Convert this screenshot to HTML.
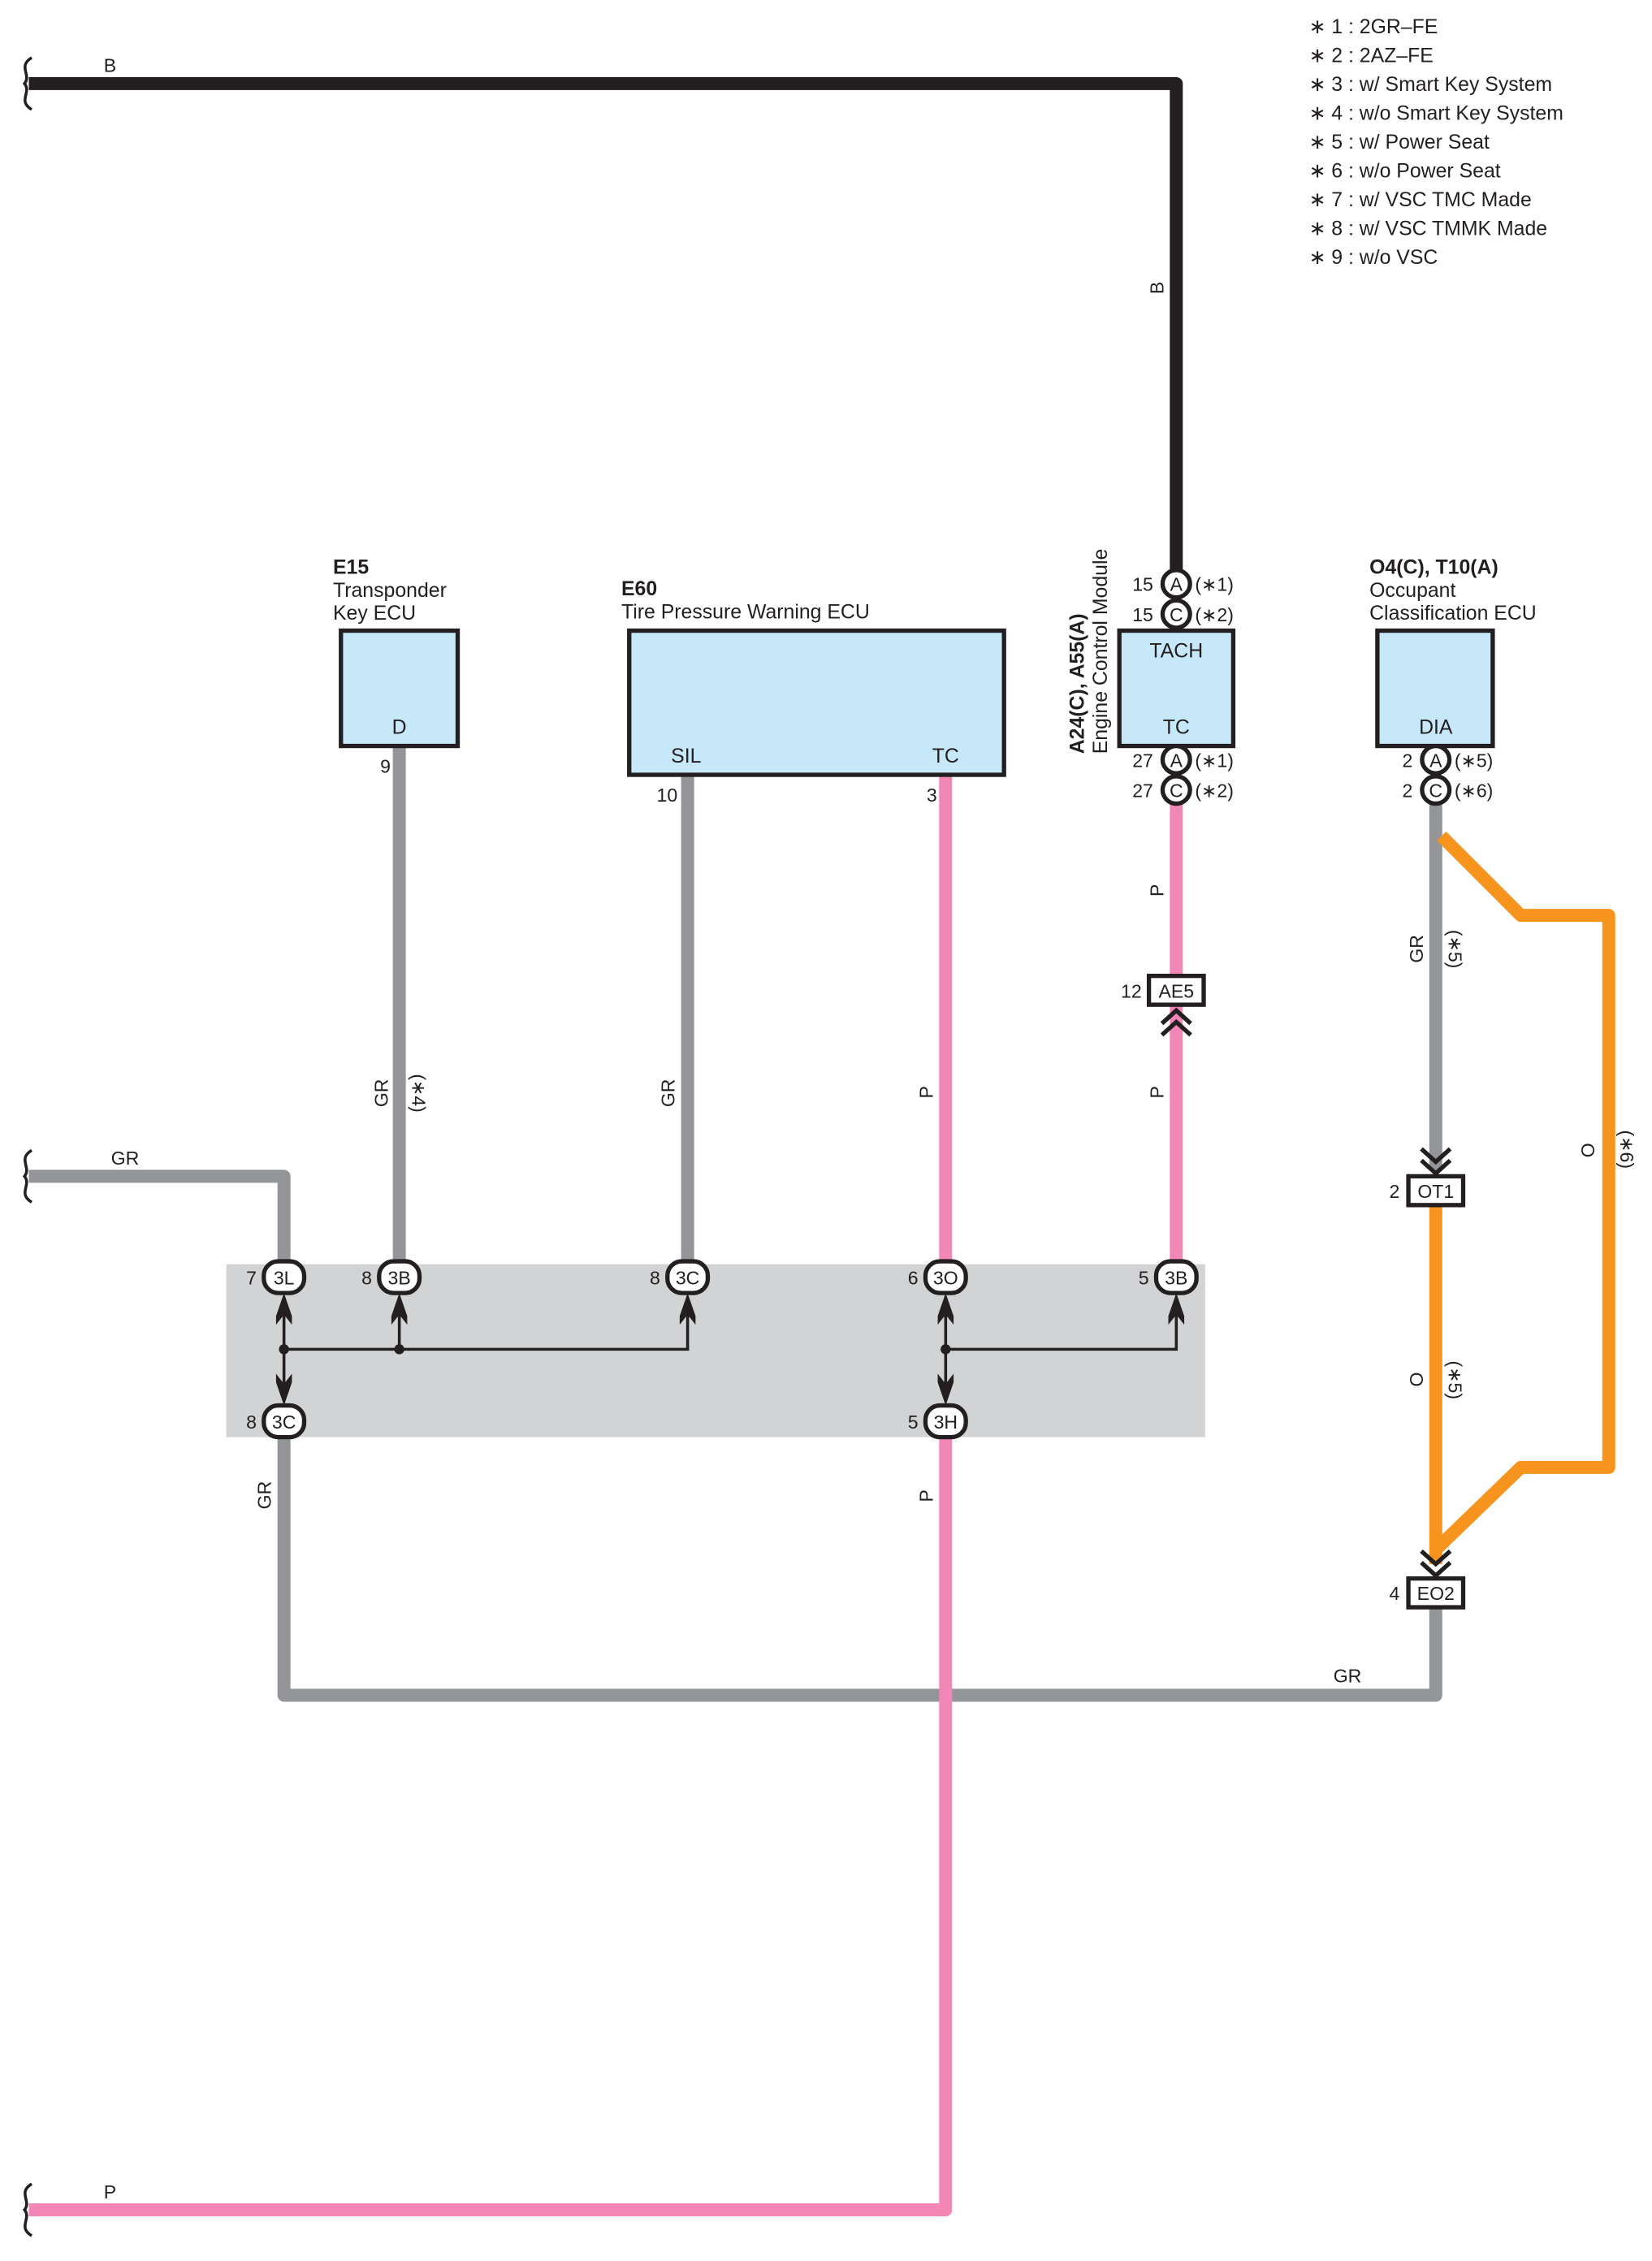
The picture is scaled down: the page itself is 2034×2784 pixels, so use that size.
<!DOCTYPE html>
<html><head><meta charset="utf-8"><style>
html,body{margin:0;padding:0;background:#fff}
svg{display:block}
text{font-family:"Liberation Sans",sans-serif;fill:#231f20}
</style></head><body>
<svg width="2034" height="2784" viewBox="0 0 1146 1568.5" preserveAspectRatio="none" xmlns="http://www.w3.org/2000/svg">
<defs>
<g id="up"><path d="M-5.5,16 L0,0 L5.5,16 L5.5,22 L0,15 L-5.5,22 Z" fill="#231f20"/></g>
<g id="dn"><path d="M-5.5,-16 L0,0 L5.5,-16 L5.5,-22 L0,-15 L-5.5,-22 Z" fill="#231f20"/></g>
</defs>
<rect x="157" y="877" width="679" height="120" fill="#d1d3d4"/>

<g fill="none" stroke-linejoin="round" stroke-linecap="butt">
<polyline points="20,58 816,58 816,398" stroke="#231f20" stroke-width="9"/>
<polyline points="20,816 197,816 197,877" stroke="#939598" stroke-width="9"/>
<line x1="277" y1="518" x2="277" y2="877" stroke="#939598" stroke-width="9"/>
<line x1="477" y1="538" x2="477" y2="877" stroke="#939598" stroke-width="9"/>
<line x1="656" y1="538" x2="656" y2="877" stroke="#f287b7" stroke-width="9"/>
<line x1="816" y1="558" x2="816" y2="877" stroke="#f287b7" stroke-width="9"/>
<polyline points="197,997 197,1176 996,1176 996,1115" stroke="#939598" stroke-width="9"/>
<polyline points="656,997 656,1533 20,1533" stroke="#f287b7" stroke-width="9"/>
<line x1="996" y1="558" x2="996" y2="812" stroke="#939598" stroke-width="9"/>
<line x1="996" y1="836" x2="996" y2="1085" stroke="#f7941d" stroke-width="9"/>
<polyline points="1000,580 1055,635 1116,635 1116,1018 1055,1018 996,1075" stroke="#f7941d" stroke-width="9"/>
</g>

<g fill="none" stroke="#231f20" stroke-width="2">
<path d="M22,40 C12,46 22,52 17,58 C22,64 12,70 22,76"/>
<path d="M22,798 C12,804 22,810 17,816 C22,822 12,828 22,834"/>
<path d="M22,1515 C12,1521 22,1527 17,1533 C22,1539 12,1545 22,1551"/>
</g>

<g fill="#c7e8f8" stroke="#231f20" stroke-width="3">
<rect x="236.5" y="437.5" width="81" height="80"/>
<rect x="436.5" y="437.5" width="260" height="100"/>
<rect x="776.5" y="437.5" width="79" height="80"/>
<rect x="955.5" y="437.5" width="80" height="80"/>
</g>

<g fill="#fff" stroke="#231f20" stroke-width="3">
<circle cx="816" cy="405" r="9.5"/><circle cx="816" cy="426" r="9.5"/>
<circle cx="816" cy="527" r="9.5"/><circle cx="816" cy="548" r="9.5"/>
<circle cx="996" cy="527" r="9.5"/><circle cx="996" cy="548" r="9.5"/>
</g>
<g font-size="13" text-anchor="middle">
<text x="816" y="410">A</text><text x="816" y="431">C</text>
<text x="816" y="532">A</text><text x="816" y="553">C</text>
<text x="996" y="532">A</text><text x="996" y="553">C</text>
</g>

<g fill="#fff" stroke="#231f20" stroke-width="3">
<rect x="183" y="875" width="28" height="22" rx="10"/>
<rect x="263" y="875" width="28" height="22" rx="10"/>
<rect x="463" y="875" width="28" height="22" rx="10"/>
<rect x="642" y="875" width="28" height="22" rx="10"/>
<rect x="802" y="875" width="28" height="22" rx="10"/>
<rect x="183" y="975" width="28" height="22" rx="10"/>
<rect x="642" y="975" width="28" height="22" rx="10"/>
</g>
<g font-size="13" text-anchor="middle">
<text x="197" y="891">3L</text><text x="277" y="891">3B</text><text x="477" y="891">3C</text>
<text x="656" y="891">3O</text><text x="816" y="891">3B</text>
<text x="197" y="991">3C</text><text x="656" y="991">3H</text>
</g>
<g font-size="13" text-anchor="end">
<text x="178" y="891">7</text><text x="258" y="891">8</text><text x="458" y="891">8</text>
<text x="637" y="891">6</text><text x="797" y="891">5</text>
<text x="178" y="991">8</text><text x="637" y="991">5</text>
</g>

<g stroke="#231f20" stroke-width="2" fill="none">
<polyline points="197,905 197,965"/>
<polyline points="197,936 477,936 477,905"/>
<line x1="277" y1="905" x2="277" y2="936"/>
<polyline points="656,905 656,965"/>
<polyline points="656,936 816,936 816,905"/>
</g>
<circle cx="197" cy="936" r="3.5" fill="#231f20"/>
<circle cx="277" cy="936" r="3.5" fill="#231f20"/>
<circle cx="656" cy="936" r="3.5" fill="#231f20"/>
<use href="#up" x="197" y="897"/><use href="#up" x="277" y="897"/><use href="#up" x="477" y="897"/>
<use href="#up" x="656" y="897"/><use href="#up" x="816" y="897"/>
<use href="#dn" x="197" y="975"/><use href="#dn" x="656" y="975"/>

<g fill="#fff" stroke="#231f20" stroke-width="3">
<rect x="797" y="677" width="38" height="20"/>
<rect x="977" y="816" width="38" height="20"/>
<rect x="977" y="1095" width="38" height="20"/>
</g>
<g font-size="13" text-anchor="middle">
<text x="816" y="692">AE5</text><text x="996" y="831">OT1</text><text x="996" y="1110">EO2</text>
</g>
<g font-size="13" text-anchor="end">
<text x="792" y="692">12</text><text x="971" y="831">2</text><text x="971" y="1110">4</text>
</g>
<g fill="none" stroke="#231f20" stroke-width="3">
<polyline points="806,710 816,701 826,710"/><polyline points="806,718 816,709 826,718"/>
<polyline points="986,797 996,806 1006,797"/><polyline points="986,805 996,814 1006,805"/>
<polyline points="986,1076 996,1085 1006,1076"/><polyline points="986,1084 996,1093 1006,1084"/>
</g>

<g font-size="14" text-anchor="middle">
<text x="277" y="509">D</text>
<text x="476" y="529">SIL</text><text x="656" y="529">TC</text>
<text x="816" y="456">TACH</text><text x="816" y="509">TC</text>
<text x="996" y="509">DIA</text>
</g>
<g font-size="13" text-anchor="end">
<text x="271" y="536">9</text><text x="470" y="556">10</text><text x="650" y="556">3</text>
<text x="800" y="410">15</text><text x="800" y="431">15</text>
<text x="800" y="532">27</text><text x="800" y="553">27</text>
<text x="980" y="532">2</text><text x="980" y="553">2</text>
</g>
<g font-size="13">
<text x="829" y="410">(∗1)</text><text x="829" y="431">(∗2)</text>
<text x="829" y="532">(∗1)</text><text x="829" y="553">(∗2)</text>
<text x="1009" y="532">(∗5)</text><text x="1009" y="553">(∗6)</text>
</g>

<g font-size="14">
<text x="231" y="398" font-weight="bold">E15</text>
<text x="231" y="414">Transponder</text>
<text x="231" y="430">Key ECU</text>
<text x="431" y="413" font-weight="bold">E60</text>
<text x="431" y="429">Tire Pressure Warning ECU</text>
<text x="950" y="398" font-weight="bold">O4(C), T10(A)</text>
<text x="950" y="414">Occupant</text>
<text x="950" y="430">Classification ECU</text>
<text transform="translate(752,523) rotate(-90)" font-weight="bold">A24(C), A55(A)</text>
<text transform="translate(768,523) rotate(-90)">Engine Control Module</text>
</g>

<g font-size="13">
<text x="72" y="50">B</text>
<text x="77" y="808">GR</text>
<text x="72" y="1525">P</text>
<text x="925" y="1167">GR</text>
<text transform="translate(807,204) rotate(-90)">B</text>
<text transform="translate(269,768) rotate(-90)">GR</text>
<text transform="translate(286,745) rotate(90)">(∗4)</text>
<text transform="translate(468,768) rotate(-90)">GR</text>
<text transform="translate(647,762) rotate(-90)">P</text>
<text transform="translate(807,622) rotate(-90)">P</text>
<text transform="translate(807,762) rotate(-90)">P</text>
<text transform="translate(188,1047) rotate(-90)">GR</text>
<text transform="translate(647,1042) rotate(-90)">P</text>
<text transform="translate(987,668) rotate(-90)">GR</text>
<text transform="translate(1005,645) rotate(90)">(∗5)</text>
<text transform="translate(987,962) rotate(-90)">O</text>
<text transform="translate(1005,944) rotate(90)">(∗5)</text>
<text transform="translate(1106,803) rotate(-90)">O</text>
<text transform="translate(1124,784) rotate(90)">(∗6)</text>
</g>

<g font-size="14">
<text x="908" y="23">∗ 1 : 2GR–FE</text>
<text x="908" y="43">∗ 2 : 2AZ–FE</text>
<text x="908" y="63">∗ 3 : w/ Smart Key System</text>
<text x="908" y="83">∗ 4 : w/o Smart Key System</text>
<text x="908" y="103">∗ 5 : w/ Power Seat</text>
<text x="908" y="123">∗ 6 : w/o Power Seat</text>
<text x="908" y="143">∗ 7 : w/ VSC TMC Made</text>
<text x="908" y="163">∗ 8 : w/ VSC TMMK Made</text>
<text x="908" y="183">∗ 9 : w/o VSC</text>
</g>
</svg>
</body></html>
